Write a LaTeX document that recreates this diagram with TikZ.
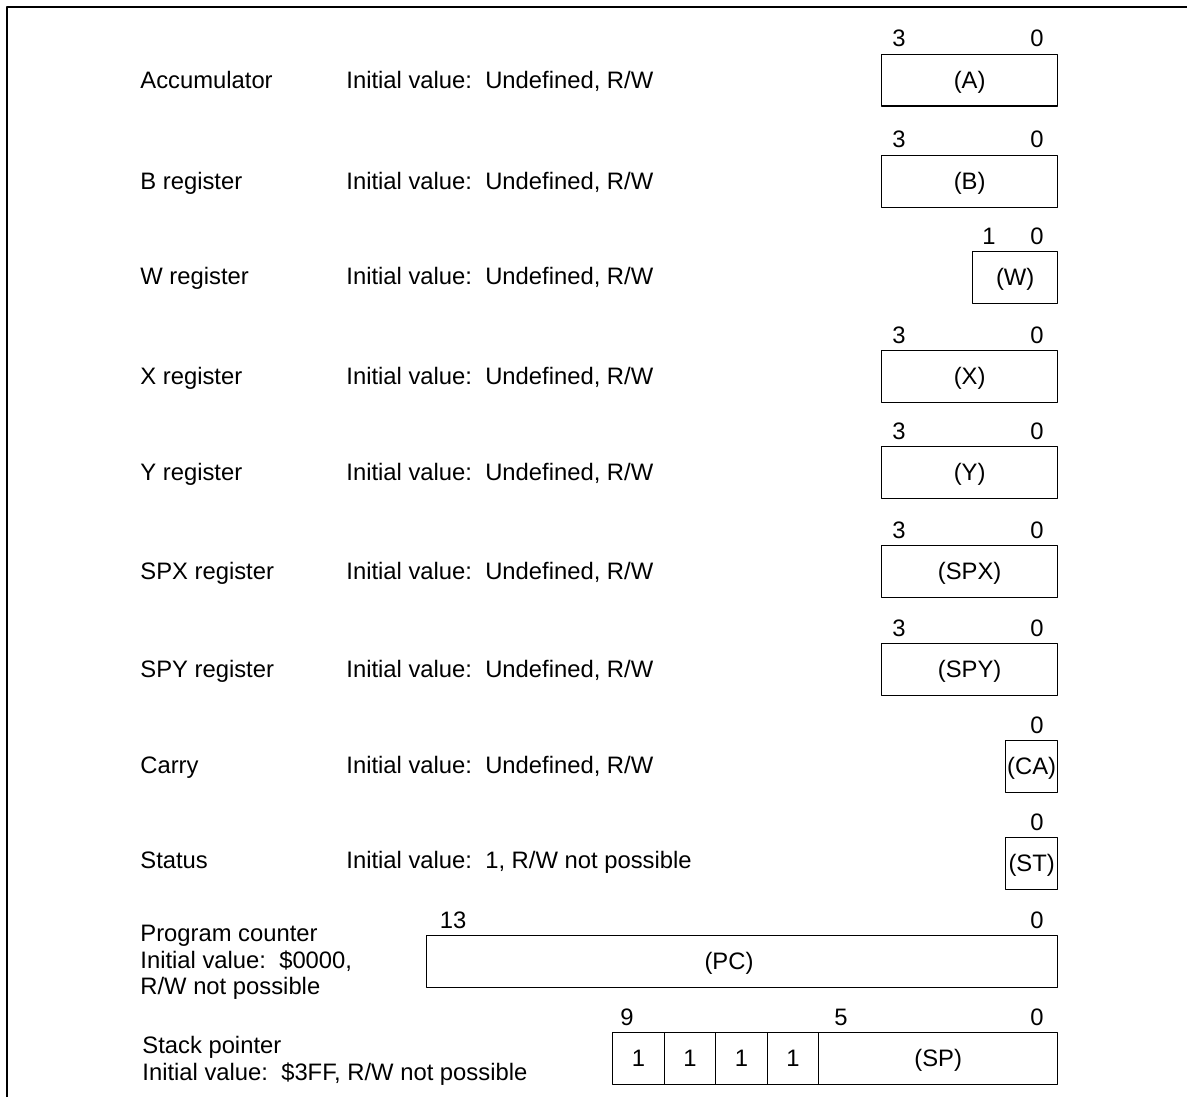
\documentclass[tikz,border=0pt]{standalone}
\usepackage{fontspec}
\setmainfont{Liberation Sans}
\begin{document}
\begin{tikzpicture}[x=0.5pt,y=-0.5pt,line join=round,font=\fontsize{11.9}{13.25}\selectfont,
  reg/.style={draw,line width=0.65pt,inner sep=0pt,minimum height=25.75pt,text height=8.5pt,text depth=0pt,anchor=north west},
  lbl/.style={inner sep=0pt,anchor=base west},
  bitno/.style={inner sep=0pt,anchor=base}]
\useasboundingbox (0,0) rectangle (1187,1097);
\draw[line width=0.65pt] (7,1097) -- (7,7) -- (1187,7);
% 4-bit registers
\foreach \nm/\lab/\yt in {A/Accumulator/54,B/B register/155,X/X register/350,Y/Y register/446,SPX/SPX register/545,SPY/SPY register/643}{
  \node[lbl] (name\nm) at (140,\yt+34.5) {\lab};
  \node[lbl] (init\nm) at (346,\yt+34.5) {Initial value:\ \ Undefined, R/W};
  \node[reg,minimum width=88pt] (reg\nm) at (881,\yt) {(\nm)};
  \node[bitno] (msb\nm) at (899,\yt-7) {3};
  \node[bitno] (lsb\nm) at (1037,\yt-7) {0};
}
% W register
\node[lbl] (nameW) at (140,284.5) {W register};
\node[lbl] (initW) at (346,284.5) {Initial value:\ \ Undefined, R/W};
\node[reg,minimum width=42.5pt] (regW) at (972,251) {(W)};
\node[bitno] (msbW) at (989,244) {1};
\node[bitno] (lsbW) at (1037,244) {0};
% carry and status
\node[lbl] (nameCA) at (140,773.5) {Carry};
\node[lbl] (initCA) at (346,773.5) {Initial value:\ \ Undefined, R/W};
\node[reg,minimum width=26pt] (regCA) at (1005,740) {(CA)};
\node[bitno] (lsbCA) at (1037,733) {0};
\node[lbl] (nameST) at (140,868.5) {Status};
\node[lbl] (initST) at (346,868.5) {Initial value:\ \ 1, R/W not possible};
\node[reg,minimum width=26pt] (regST) at (1005,837) {(ST)};
\node[bitno] (lsbST) at (1037,830) {0};
% program counter
\node[inner sep=0pt,anchor=north west,align=left] (namePC) at (140,925)
  {Program counter\\Initial value:\ \ \$0000,\\R/W not possible};
\node[reg,minimum width=315.5pt] (regPC) at (426,935) {};
\node[bitno] (textPC) at (729,969.5) {(PC)};
\node[bitno] (msbPC) at (453,928) {13};
\node[bitno] (lsbPC) at (1037,928) {0};
% stack pointer
\node[inner sep=0pt,anchor=north west,align=left] (nameSP) at (142,1036)
  {Stack pointer\\Initial value:\ \ \$3FF, R/W not possible};
\foreach \i in {0,...,3}
  \node[reg,minimum width=25.75pt] (fix\i) at (612+51.5*\i,1032) {1};
\node[reg,minimum width=119.5pt] (regSP) at (818,1032) {(SP)};
\node[bitno] (msbSP) at (627,1025) {9};
\node[bitno] (midSP) at (841,1025) {5};
\node[bitno] (lsbSP) at (1037,1025) {0};
\end{tikzpicture}
\end{document}
